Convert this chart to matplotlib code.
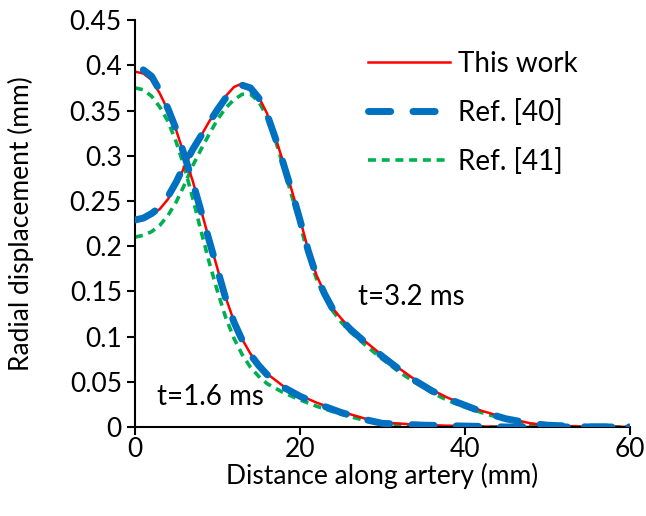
import numpy as np
import matplotlib.pyplot as plt

plt.rcParams['font.family'] = ['Lato', 'DejaVu Sans']

# t = 1.6 ms
x_a = [0, 1, 2, 3, 4, 5, 6, 7, 8, 9, 10, 11, 12, 13, 14, 15, 16, 18, 20, 22, 25, 28, 30, 35, 40, 45, 50, 60]
work_a = [0.393, 0.391, 0.384, 0.369, 0.350, 0.328, 0.300, 0.272, 0.240, 0.207, 0.175, 0.143, 0.117, 0.097, 0.081, 0.069, 0.059, 0.045, 0.035, 0.027, 0.017, 0.009, 0.005, 0.002, 0.001, 0.0, 0.0, 0.0]
ref40_x_a = [1, 2, 3, 4, 5, 6, 7, 8, 9, 10, 11, 12, 13, 14, 15, 16, 18, 20, 22, 25, 28, 30, 35, 40, 45, 50, 60]
ref40_a = [0.395, 0.388, 0.372, 0.352, 0.329, 0.300, 0.271, 0.239, 0.206, 0.174, 0.142, 0.116, 0.096, 0.080, 0.068, 0.058, 0.044, 0.034, 0.026, 0.016, 0.008, 0.004, 0.002, 0.001, 0.0, 0.0, 0.0]
ref41_a = [0.375, 0.373, 0.366, 0.354, 0.338, 0.315, 0.287, 0.253, 0.217, 0.182, 0.150, 0.121, 0.098, 0.080, 0.066, 0.056, 0.048, 0.038, 0.030, 0.023, 0.014, 0.007, 0.004, 0.001, 0.0, 0.0, 0.0, 0.0]

# t = 3.2 ms
x_b = [0, 1, 2, 3, 4, 5, 6, 7, 8, 9, 10, 11, 12, 13, 14, 15, 16, 17, 18, 19, 20, 21, 22, 23, 24, 25, 26, 28, 30, 32, 34, 36, 38, 40, 42, 45, 48, 50, 55, 60]
work_b = [0.229, 0.231, 0.235, 0.241, 0.252, 0.268, 0.288, 0.306, 0.322, 0.338, 0.352, 0.366, 0.376, 0.380, 0.376, 0.365, 0.347, 0.321, 0.292, 0.262, 0.230, 0.196, 0.168, 0.148, 0.131, 0.120, 0.110, 0.094, 0.079, 0.065, 0.052, 0.041, 0.032, 0.025, 0.018, 0.010, 0.004, 0.002, 0.0, 0.0]
ref40_b = [0.229, 0.231, 0.236, 0.243, 0.255, 0.271, 0.290, 0.307, 0.322, 0.337, 0.351, 0.364, 0.374, 0.378, 0.375, 0.364, 0.346, 0.320, 0.291, 0.261, 0.229, 0.195, 0.167, 0.147, 0.130, 0.119, 0.109, 0.093, 0.078, 0.064, 0.051, 0.040, 0.031, 0.024, 0.017, 0.009, 0.004, 0.002, 0.0, 0.0]
ref41_b = [0.210, 0.212, 0.216, 0.223, 0.234, 0.249, 0.268, 0.289, 0.307, 0.324, 0.340, 0.353, 0.362, 0.368, 0.368, 0.360, 0.343, 0.318, 0.288, 0.256, 0.224, 0.191, 0.164, 0.144, 0.128, 0.116, 0.106, 0.090, 0.075, 0.061, 0.049, 0.038, 0.029, 0.022, 0.016, 0.008, 0.003, 0.001, 0.0, 0.0]

fig = plt.figure(figsize=(6.46, 5.16), dpi=100)
ax = fig.add_axes([0.209, 0.1725, 0.766, 0.7885])

red = "#ff0000"
blue = "#0070c0"
green = "#00b050"

ax.plot(x_a, work_a, color=red, lw=1.8, label="This work", zorder=2)
ax.plot(ref40_x_a, ref40_a, color=blue, lw=5, dashes=(3.2, 3.2), dash_capstyle="round", label="Ref. [40]", zorder=3)
ax.plot(x_a, ref41_a, color=green, lw=2.6, dashes=(2.2, 1.6), label="Ref. [41]", zorder=1)

ax.plot(x_b, work_b, color=red, lw=1.8, zorder=2)
ax.plot(x_b, ref40_b, color=blue, lw=5, dashes=(3.2, 3.2), dash_capstyle="round", zorder=3)
ax.plot(x_b, ref41_b, color=green, lw=2.6, dashes=(2.2, 1.6), zorder=1)

ax.text(27, 0.144, "t=3.2 ms", fontsize=20, va="center", ha="left")
ax.text(2.7, 0.033, "t=1.6 ms", fontsize=20, va="center", ha="left")

ax.set_xlim(0, 60)
ax.set_ylim(0, 0.45)
ax.set_xticks([0, 20, 40, 60])
ax.set_yticks(np.arange(0, 0.451, 0.05))
ax.set_yticklabels(["0", "0.05", "0.1", "0.15", "0.2", "0.25", "0.3", "0.35", "0.4", "0.45"])
ax.tick_params(labelsize=19, width=1.5, length=6, direction="out")
ax.tick_params(axis="x", pad=1)
ax.spines["top"].set_visible(False)
ax.spines["right"].set_visible(False)
ax.spines["left"].set_linewidth(1.5)
ax.spines["bottom"].set_linewidth(1.5)

ax.set_xlabel("Distance along artery (mm)", fontsize=19, labelpad=1)
ax.set_ylabel("Radial displacement (mm)", fontsize=19, labelpad=26)

ax.legend(loc="upper left", bbox_to_anchor=(0.47, 0.925), frameon=False, fontsize=20,
          handlelength=2.95, handletextpad=0.3, labelspacing=0.8,
          borderpad=0, borderaxespad=0)

fig.savefig("out.png", dpi=100)
